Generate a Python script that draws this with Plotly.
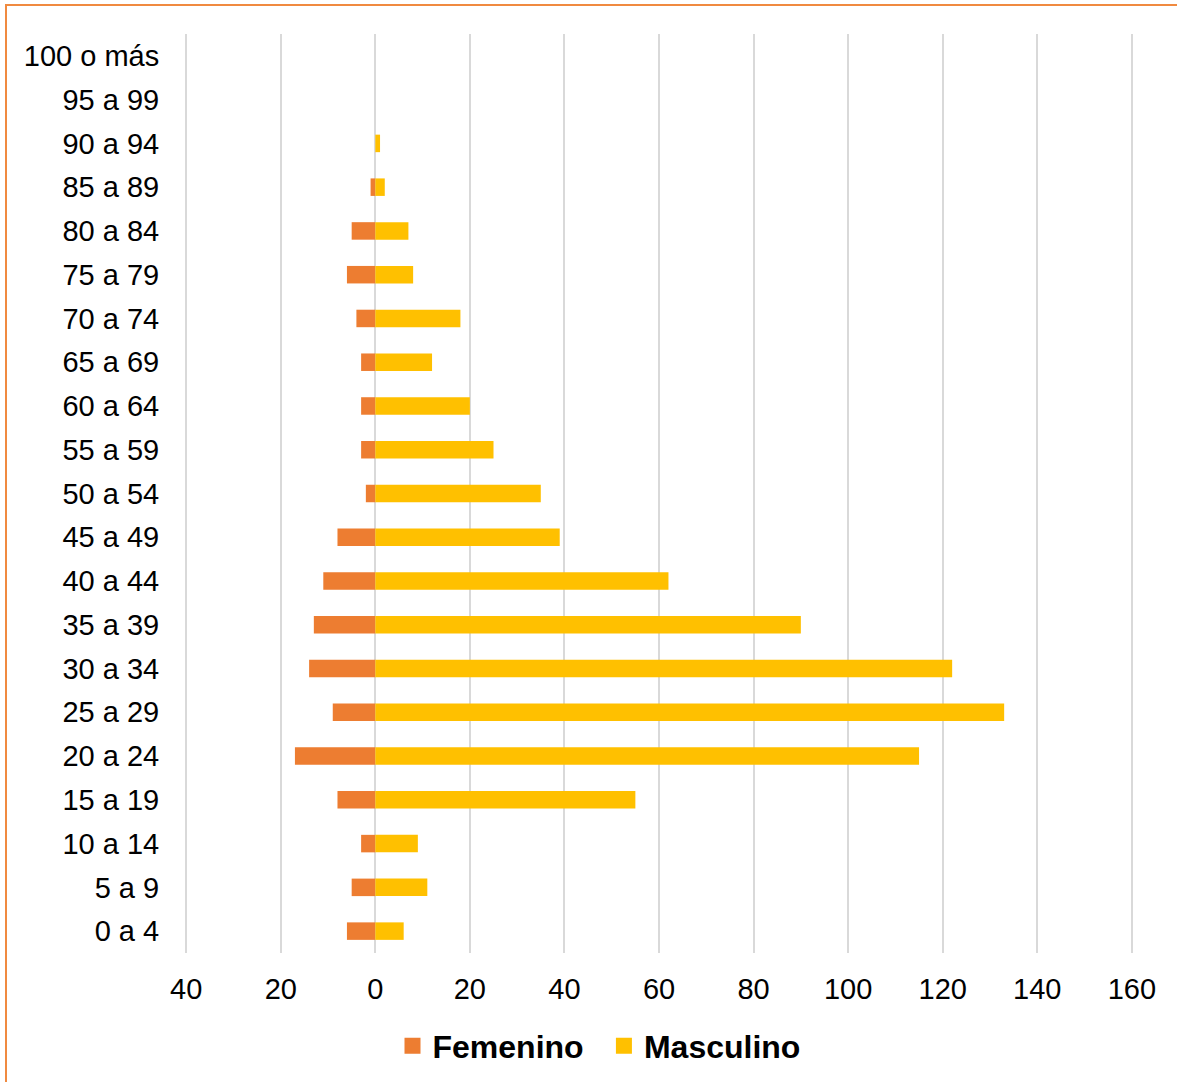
import plotly.graph_objects as go

categories = ["0 a 4", "5 a 9", "10 a 14", "15 a 19", "20 a 24", "25 a 29", "30 a 34",
              "35 a 39", "40 a 44", "45 a 49", "50 a 54", "55 a 59", "60 a 64", "65 a 69",
              "70 a 74", "75 a 79", "80 a 84", "85 a 89", "90 a 94", "95 a 99", "100 o más"]
femenino = [6, 5, 3, 8, 17, 9, 14, 13, 11, 8, 2, 3, 3, 3, 4, 6, 5, 1, 0, 0, 0]
masculino = [6, 11, 9, 55, 115, 133, 122, 90, 62, 39, 35, 25, 20, 12, 18, 8, 7, 2, 1, 0, 0]
x_ticks = [-40, -20, 0, 20, 40, 60, 80, 100, 120, 140, 160]
x_ticktext = [str(abs(v)) for v in x_ticks]

C_FEM = "#ED7D31"
C_MAS = "#FFC000"

fig = go.Figure()
fig.add_trace(go.Bar(y=categories, x=[-v for v in femenino], orientation="h",
                     name="Femenino", marker=dict(color=C_FEM, line=dict(width=0)),
                     showlegend=False, customdata=femenino,
                     hovertemplate="%{y}: %{customdata}<extra>Femenino</extra>"))
fig.add_trace(go.Bar(y=categories, x=masculino, orientation="h",
                     name="Masculino", marker=dict(color=C_MAS, line=dict(width=0)),
                     showlegend=False))
# legend proxies with larger square symbols
for name, col in [("Femenino\u00a0\u2009", C_FEM), ("Masculino", C_MAS)]:
    fig.add_trace(go.Scatter(x=[None], y=[None], mode="markers", name=name,
                             marker=dict(symbol="square", size=16, color=col)))

W, H = 1177, 1082
L, R, T, B = 185, 44, 34, 129
pw, ph = W - L - R, H - T - B

def px(x):
    return (x - L) / pw

def py(y):
    return (H - B - y) / ph

fig.update_layout(
    width=W, height=H,
    margin=dict(l=L, r=R, t=T, b=B, autoexpand=False),
    paper_bgcolor="white", plot_bgcolor="white",
    barmode="relative", bargap=0.6,
    font=dict(family="Liberation Sans, Arial, sans-serif", size=29, color="#000000"),
    legend=dict(orientation="h", x=px(599), y=py(1046), xanchor="center", yanchor="middle",
                font=dict(size=32, weight="bold", color="#000000"), itemwidth=30,
                tracegroupgap=0),
    xaxis=dict(range=[-40.25, 160.25], tickvals=x_ticks, ticktext=x_ticktext,
               showgrid=True, gridcolor="#D9D9D9", gridwidth=1.5, zeroline=False,
               showline=False, ticks="outside", ticklen=10, tickcolor="rgba(0,0,0,0)",
               tickfont=dict(size=29, color="#000000"), fixedrange=True),
    yaxis=dict(categoryorder="array", categoryarray=categories, showgrid=False,
               zeroline=False, showline=False, ticks="outside", ticklen=19,
               tickcolor="rgba(0,0,0,0)", tickfont=dict(size=29, color="#000000")),
    shapes=[
        dict(type="line", xref="paper", yref="paper", x0=px(5), x1=px(1200), y0=py(5), y1=py(5),
             line=dict(color="#F08A40", width=2)),
        dict(type="line", xref="paper", yref="paper", x0=px(6), x1=px(6), y0=py(5), y1=py(1100),
             line=dict(color="#F08A40", width=2)),
    ],
)

fig.write_html("out.html", config={"displayModeBar": False},
               post_script="document.body.style.margin='0';document.body.style.overflow='hidden';")
